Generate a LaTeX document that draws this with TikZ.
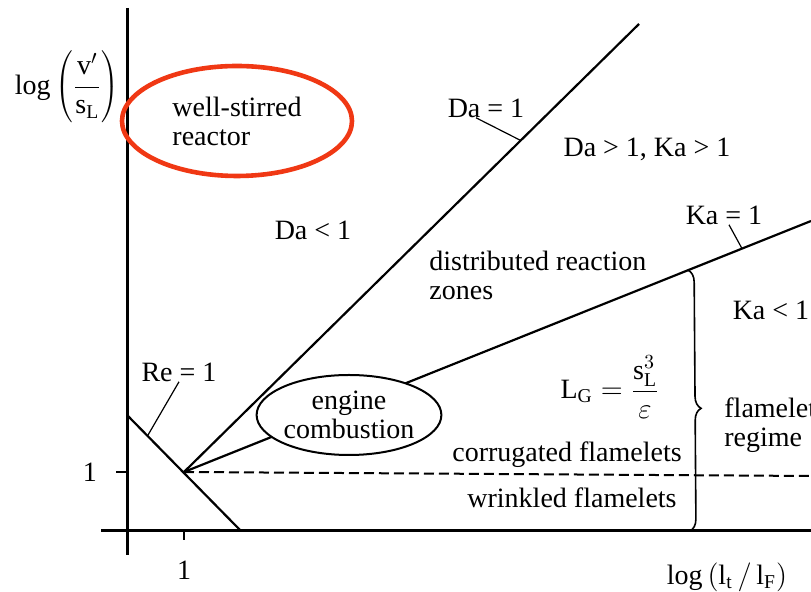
\documentclass[tikz,border=0pt]{standalone}
\usepackage{fontspec}
\setmainfont{Liberation Serif}
\usetikzlibrary{shapes.geometric,decorations.pathreplacing,calc}
\definecolor{ringred}{RGB}{240,56,20}
\tikzset{
  axisline/.style={line width=1.5pt, draw=black},
  tickline/.style={line width=1pt, draw=black},
  regline/.style={line width=1.1pt, draw=black},
  dashline/.style={line width=1pt, draw=black, dash pattern=on 5pt off 2.5pt},
  leader/.style={line width=0.6pt, draw=black},
  regbrace/.style={line width=0.8pt, draw=black, decorate,
               decoration={brace, amplitude=6pt, aspect=0.53}},
  ring/.style={ellipse, draw=ringred, line width=2.3pt, align=left,
               minimum width=115pt, minimum height=55pt},
  engbox/.style={ellipse, draw=black, fill=white, line width=1pt, align=center,
               minimum width=79pt, minimum height=40pt},
}

\begin{document}
\begin{tikzpicture}[x=0.5pt, y=-0.5pt,
    every node/.style={font=\fontsize{14}{14.5}\selectfont, inner sep=0pt}]
    \useasboundingbox (0,0) rectangle (811,592);
    \coordinate (ytop) at (127,8);
    \coordinate (ybot) at (127,555);
    \coordinate (xl) at (101,531);
    \coordinate (xr) at (811,531);
    \coordinate (jn) at (184,472);
    \coordinate (datop) at (639,24);
    \coordinate (kaend) at (811,221);
    \coordinate (reup) at (127,415);
    \coordinate (relo) at (241,531);
    \coordinate (dashend) at (811,476);
    \coordinate (ytk) at (116,472);
    \coordinate (ytk0) at (127,472);
    \coordinate (xtk) at (184,531);
    \coordinate (xtk1) at (184,540);
    \coordinate (kab) at ($(jn)!0.804!(kaend)$);
    \coordinate (axb) at (690,531);

    \draw[axisline] (ytop) -- (ybot);
    \draw[axisline] (xl) -- (xr);
    \draw[tickline] (ytk) -- (ytk0);
    \draw[tickline] (xtk) -- (xtk1);
    \draw[regline] (jn) -- (datop);
    \draw[regline] (jn) -- (kaend);
    \draw[regline] (reup) -- (relo);
    \draw[dashline] (jn) -- (dashend);
    \draw[regbrace] (kab) -- (axb);

    \node (ylab) at (67,87) {$\log\left(\displaystyle\frac{\mathrm{v}'}{\mathrm{s}_{\mathrm{L}}}\right)$};
    \node (xlab) at (727,577) {$\log\left(\mathrm{l}_{\mathrm{t}}\,/\,\mathrm{l}_{\mathrm{F}}\right)$};
    \node (yone) at (90,472) {1};
    \node (xone) at (184,570) {1};

    \node[ring] (wsr) at (237,121) {well-stirred\\reactor};
    \node[engbox] (eng) at (349,415) {engine\\combustion};

    \node (da1) at (486,108) {Da = 1};
    \node (dagt) at (647,149) {Da > 1, Ka > 1};
    \node (dalt) at (313,230) {Da < 1};
    \node[anchor=west, align=left] (drz) at (429,275) {distributed reaction\\zones};
    \node (ka1) at (724,215) {Ka = 1};
    \node (kalt) at (771,310) {Ka < 1};
    \node (lg) at (610,387) {$\mathrm{L_G}=\displaystyle\frac{\mathrm{s}_{\mathrm{L}}^3}{\varepsilon}$};
    \node (corr) at (567,455) {corrugated flamelets};
    \node (wrin) at (572,498) {wrinkled flamelets};
    \node[anchor=west, align=left] (flreg) at (724,425) {flamelet\\regime};
    \node (re1) at (179,372) {Re = 1};

    \coordinate (dapt) at ($(jn)!0.74!(datop)$);
    \coordinate (kapt) at ($(jn)!0.89!(kaend)$);
    \coordinate (rept) at ($(reup)!0.18!(relo)$);
    \draw[leader] ([xshift=-5pt]da1.south) -- (dapt);
    \draw[leader] ([xshift=2.5pt]ka1.south) -- (kapt);
    \draw[leader] (re1.south) -- (rept);
\end{tikzpicture}
\end{document}
